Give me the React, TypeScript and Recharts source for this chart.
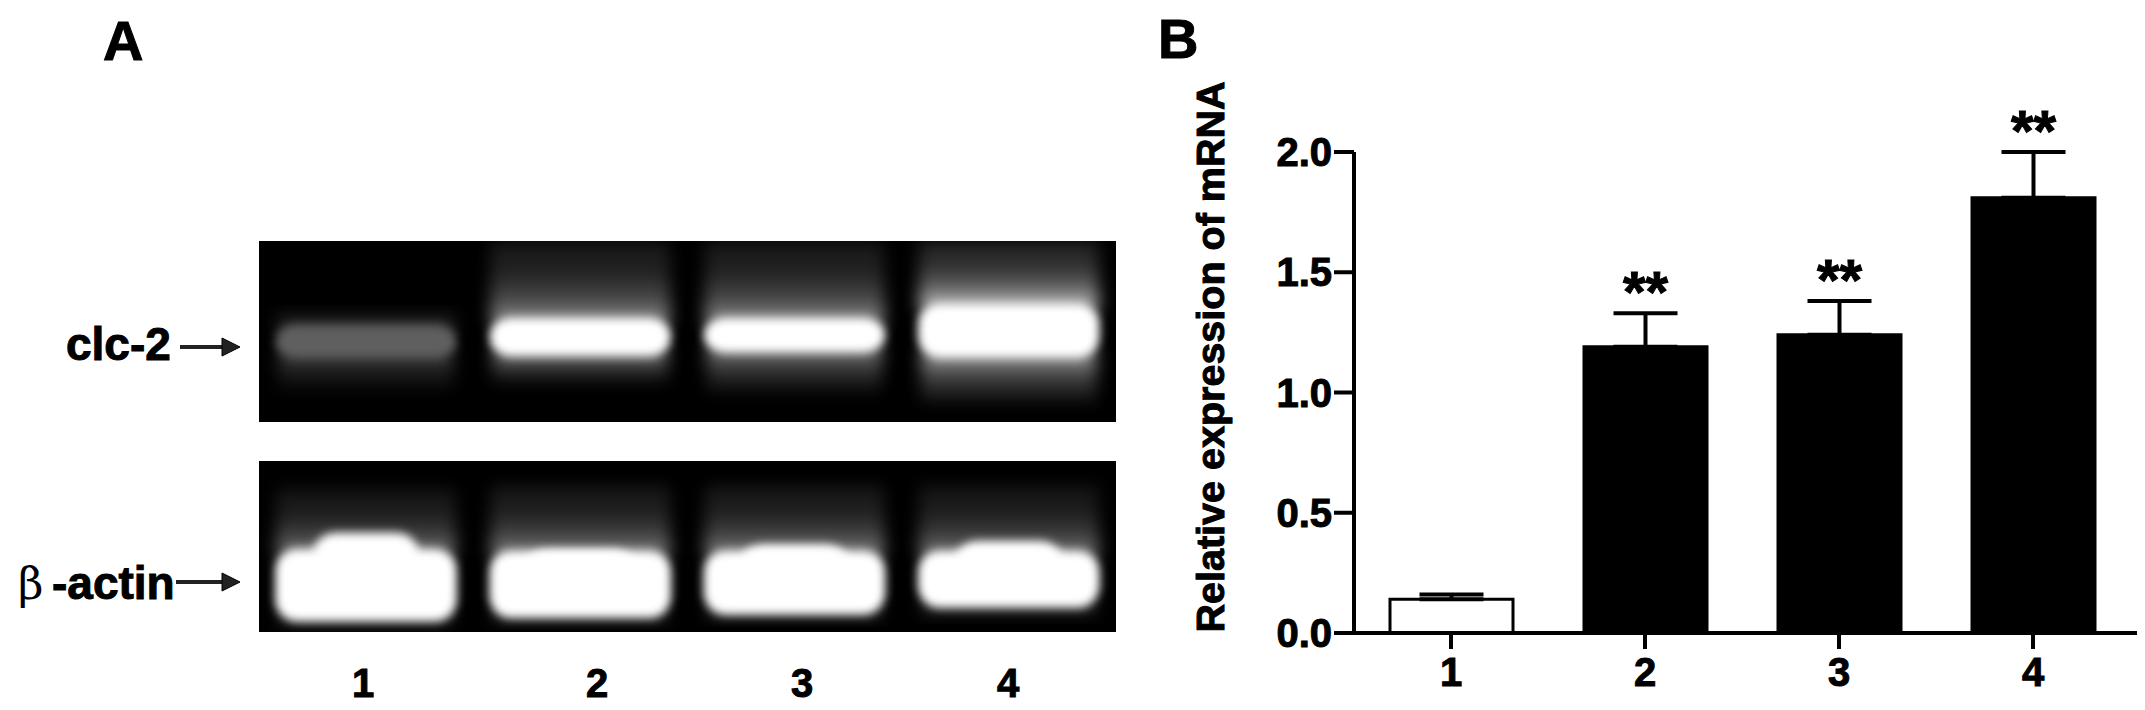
import React from 'react';
import {
  BarChart,
  Bar,
  Cell,
  XAxis,
  YAxis,
  ErrorBar,
  LabelList,
} from 'recharts';

const lanes = ['1', '2', '3', '4'];

// panel B
const expression = [0.14, 1.19, 1.24, 1.81];
const expressionErr = [0.02, 0.14, 0.14, 0.19];
const significance = ['', '**', '**', '**'];
const yTicks = [0, 0.5, 1, 1.5, 2];

// panel A, band edges as % of gel height from the bottom
const clcLow = [35, 36, 38, 35];
const clcHigh = [54, 58, 58, 66];
const clcGray = ['#5e5e5e', '#ffffff', '#ffffff', '#ffffff'];
const clcSmearTop = [62, 100, 100, 100];
const clcSmearOpacity = [0.35, 0.7, 0.7, 1];
const clcTailLow = [15, 20, 14, 8];
const clcTailOpacity = [0.35, 0.7, 0.65, 0.8];

const actinLow = [6, 8, 10, 14];
const actinHigh = [49, 48, 48, 48];
const actinCrestHigh = [58, 48, 51, 53];
const actinSmearTop = [84, 86, 86, 86];
const actinSmearOpacity = [0.6, 0.65, 0.65, 0.6];
const actinTailLow = [2, 3, 5, 7];
const actinTailOpacity = [0.35, 0.35, 0.35, 0.35];

const clcData = lanes.map((lane, i) => ({
  lane,
  band: [clcLow[i], clcHigh[i]],
  smear: [clcHigh[i] - 4, clcSmearTop[i]],
  tail: [clcTailLow[i], clcLow[i] + 4],
  gray: clcGray[i],
  smearOpacity: clcSmearOpacity[i],
  tailOpacity: clcTailOpacity[i],
}));

const actinData = lanes.map((lane, i) => ({
  lane,
  band: [actinLow[i], actinHigh[i]],
  crest: [actinHigh[i] - 14, actinCrestHigh[i]],
  smear: [actinHigh[i] - 4, actinSmearTop[i]],
  tail: [actinTailLow[i], actinLow[i] + 4],
  gray: '#ffffff',
  smearOpacity: actinSmearOpacity[i],
  tailOpacity: actinTailOpacity[i],
}));

const barData = lanes.map((lane, i) => ({
  lane,
  value: expression[i],
  err: [0, expressionErr[i]],
  top: expression[i] + expressionErr[i],
  stars: significance[i],
}));

const FONT = '"Liberation Sans", Arial, sans-serif';

const GelDefs = ({ id }: { id: string }) => (
  <defs>
    <filter id={`${id}-core`} x="-20%" y="-40%" width="140%" height="180%">
      <feGaussianBlur stdDeviation="5" />
    </filter>
    <filter id={`${id}-soft`} x="-20%" y="-20%" width="140%" height="140%">
      <feGaussianBlur stdDeviation="8" />
    </filter>
    <linearGradient id={`${id}-up`} x1="0" y1="1" x2="0" y2="0">
      <stop offset="0" stopColor="#fff" stopOpacity={0.9} />
      <stop offset="0.25" stopColor="#fff" stopOpacity={0.45} />
      <stop offset="0.6" stopColor="#fff" stopOpacity={0.2} />
      <stop offset="1" stopColor="#fff" stopOpacity={0.12} />
    </linearGradient>
    <linearGradient id={`${id}-down`} x1="0" y1="0" x2="0" y2="1">
      <stop offset="0" stopColor="#fff" stopOpacity={0.85} />
      <stop offset="0.4" stopColor="#fff" stopOpacity={0.35} />
      <stop offset="1" stopColor="#fff" stopOpacity={0} />
    </linearGradient>
  </defs>
);

const smearShape = (id: string, dir: 'up' | 'down') => (props: any) => {
  const { x, y, width, height, payload } = props;
  const opacity = dir === 'up' ? payload.smearOpacity : payload.tailOpacity;
  return (
    <rect
      x={x}
      y={y}
      width={width}
      height={height}
      fill={`url(#${id}-${dir})`}
      opacity={opacity}
      filter={`url(#${id}-soft)`}
    />
  );
};

const bandShape = (id: string) => (props: any) => {
  const { x, y, width, height, payload } = props;
  return (
    <rect
      x={x}
      y={y}
      width={width}
      height={height}
      rx={22}
      fill={payload.gray}
      filter={`url(#${id}-core)`}
    />
  );
};

const Gel = ({ id, data, width, height, left, top, crest }: any) => (
  <div style={{ position: 'absolute', left, top, width, height, background: '#000' }}>
    <BarChart
      width={width}
      height={height}
      data={data}
      margin={{ top: 0, right: 0, bottom: 0, left: 0 }}
    >
      <GelDefs id={id} />
      <XAxis xAxisId="smear" dataKey="lane" hide />
      <XAxis xAxisId="tail" dataKey="lane" hide />
      <XAxis xAxisId="band" dataKey="lane" hide />
      <XAxis xAxisId="crest" dataKey="lane" hide />
      <YAxis domain={[0, 100]} hide />
      <Bar xAxisId="smear" dataKey="smear" barSize={180} isAnimationActive={false} shape={smearShape(id, 'up')} />
      <Bar xAxisId="tail" dataKey="tail" barSize={176} isAnimationActive={false} shape={smearShape(id, 'down')} />
      <Bar xAxisId="band" dataKey="band" barSize={182} isAnimationActive={false} shape={bandShape(id)} />
      {crest && (
        <Bar xAxisId="crest" dataKey="crest" barSize={104} isAnimationActive={false} shape={bandShape(id)} />
      )}
    </BarChart>
  </div>
);

const laneLabelX = [363, 597, 802, 1008];

const Annotations = () => (
  <svg
    width={2145}
    height={710}
    style={{ position: 'absolute', left: 0, top: 0, pointerEvents: 'none' }}
    fontFamily={FONT}
    fontWeight="bold"
    fill="#000"
    stroke="#000"
    strokeWidth={1}
  >
    <text x={103} y={60} fontSize={56}>A</text>
    <text x={1158} y={58} fontSize={56}>B</text>

    <text x={66} y={360} fontSize={46}>clc-2</text>
    <line x1={180} y1={347} x2={226} y2={347} stroke="#222" strokeWidth={4} />
    <polygon points="222,338 240,347 222,356" fill="#222" />

    <text x={18} y={599} fontSize={44} fontFamily="'DejaVu Serif', serif" fontWeight="normal" strokeWidth={0}>β</text>
    <text x={52} y={599} fontSize={46}>-actin</text>
    <line x1={176} y1={582} x2={226} y2={582} stroke="#222" strokeWidth={4} />
    <polygon points="222,573 240,582 222,591" fill="#222" />

    {lanes.map((l, i) => (
      <text key={l} x={laneLabelX[i]} y={697} fontSize={40} textAnchor="middle">{l}</text>
    ))}

    <text
      transform="translate(1214,357) rotate(-90)"
      textAnchor="middle"
      dominantBaseline="middle"
      fontSize={39.5}
    >
      Relative expression of mRNA
    </text>
  </svg>
);

const tickStyle = { fill: '#000', stroke: '#000', strokeWidth: 1, fontSize: 40, fontWeight: 'bold', fontFamily: FONT };

const ExpressionChart = () => (
  <div style={{ position: 'absolute', left: 1150, top: 0 }}>
    <BarChart
      width={995}
      height={710}
      data={barData}
      margin={{ top: 152, right: 8, bottom: 0, left: 0 }}
    >
      <XAxis
        dataKey="lane"
        height={77}
        padding={{ left: 0, right: 7 }}
        axisLine={{ stroke: '#000', strokeWidth: 4 }}
        tickLine={{ stroke: '#000', strokeWidth: 4 }}
        tickSize={16}
        tickMargin={9}
        tick={tickStyle}
      />
      <XAxis xAxisId="stars" dataKey="lane" hide padding={{ left: 0, right: 7 }} />
      <YAxis
        width={204}
        domain={[0, 2]}
        ticks={yTicks}
        tickFormatter={(v: number) => v.toFixed(1)}
        axisLine={{ stroke: '#000', strokeWidth: 4 }}
        tickLine={{ stroke: '#000', strokeWidth: 4 }}
        tickSize={20}
        tickMargin={2}
        tick={tickStyle}
      />
      <Bar dataKey="value" barSize={123} stroke="#000" strokeWidth={3} isAnimationActive={false}>
        {barData.map((d, i) => (
          <Cell key={d.lane} fill={i === 0 ? '#fff' : '#000'} />
        ))}
        <ErrorBar dataKey="err" direction="y" width={32} stroke="#000" strokeWidth={4} isAnimationActive={false} />
      </Bar>
      <Bar xAxisId="stars" dataKey="top" barSize={123} fill="none" stroke="none" isAnimationActive={false}>
        <LabelList dataKey="stars" position="top" offset={1} fill="#000" stroke="#000" strokeWidth={1} fontSize={58} fontWeight="bold" fontFamily={FONT} />
      </Bar>
    </BarChart>
  </div>
);

export default function App() {
  return (
    <div style={{ position: 'absolute', left: 0, top: 0, width: 2145, height: 710, background: '#fff', overflow: 'hidden' }}>
      <Gel id="clc" data={clcData} left={259} top={241} width={857} height={181} />
      <Gel id="actin" data={actinData} crest left={259} top={461} width={857} height={171} />
      <ExpressionChart />
      <Annotations />
    </div>
  );
}
